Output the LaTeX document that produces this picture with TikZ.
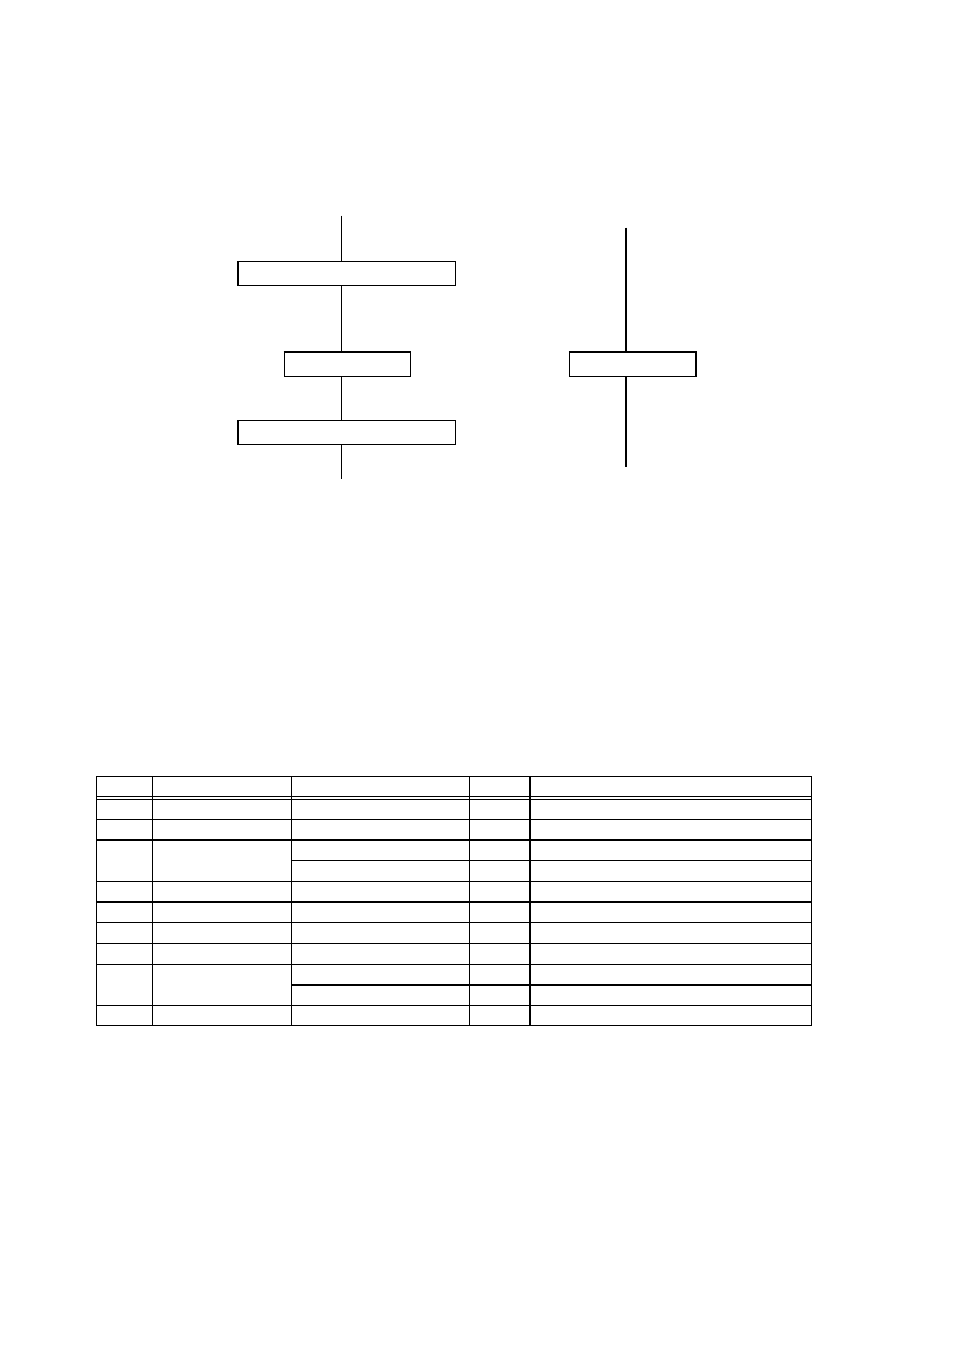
\documentclass[tikz,border=0pt]{standalone}
\begin{document}
\begin{tikzpicture}[x=1pt,y=-1pt,
  blk/.style={draw,line width=1pt,inner sep=0pt,minimum height=23.5pt,fill=white},
  thin/.style={line width=1pt},
  thick2/.style={line width=2pt}]
\useasboundingbox (0,0) rectangle (954,1351);
% left diagram
\coordinate (ltop) at (341.5,215.5);
\node[blk,minimum width=217.5pt] (b1) at (346.8,273.3) {};
\node[blk,minimum width=126.3pt] (b2) at (347.2,364.4) {};
\node[blk,minimum width=217.5pt] (b3) at (346.8,432.7) {};
\coordinate (lbot) at (341.5,478.5);
\draw[thin] (ltop) -- (ltop |- b1.north);
\draw[thin] (ltop |- b1.south) -- (ltop |- b2.north);
\draw[thin] (ltop |- b2.south) -- (ltop |- b3.north);
\draw[thin] (ltop |- b3.south) -- (lbot);
\draw[thick2] (b1.south west) -- (b1.north west);
\draw[thick2] (b2.north west) -- (b2.north east);
\draw[thick2] (b3.south west) -- (b3.north west);
% right diagram
\coordinate (rtop) at (626,227.5);
\node[blk,minimum width=125.7pt] (b4) at (632.2,364.4) {};
\coordinate (rbot) at (626,466.5);
\draw[thick2] (rtop) -- (rtop |- b4.north);
\draw[thick2] (rtop |- b4.south) -- (rbot);
\draw[thick2] (b4.north west) -- (b4.north east) -- (b4.south east);
% table
\def\xa{96.7}\def\xb{152.3}\def\xc{291.7}\def\xd{469.7}\def\xe{530}\def\xf{811.7}
\draw[thin] (\xa,776.3) rectangle (\xf,1025.7);
\foreach \y in {796,799.3,819.3,881.3,922.7,943.7,964.3,1005.3}
  \draw[thin] (\xa,\y) -- (\xf,\y);
\draw[thin] (\xc,860.3) -- (\xf,860.3);
\foreach \y in {840,902}
  \draw[thick2] (\xa,\y) -- (\xf,\y);
\draw[thick2] (\xc,985) -- (\xf,985);
\foreach \x in {\xb,\xc,\xd}
  \draw[thin] (\x,776.3) -- (\x,1025.7);
\draw[thick2] (\xe,776.3) -- (\xe,1025.7);
\end{tikzpicture}
\end{document}
